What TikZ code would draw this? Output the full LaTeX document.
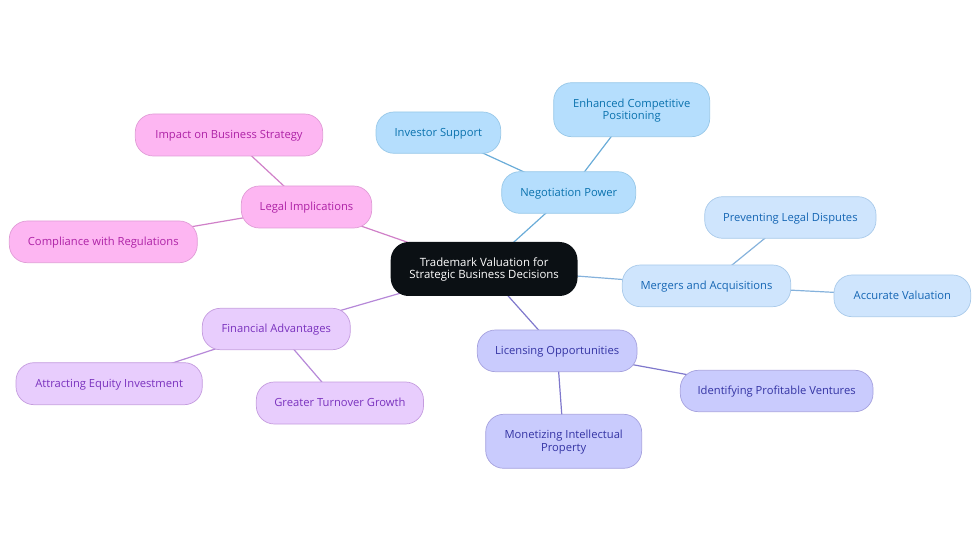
\documentclass[tikz,border=0pt]{standalone}
\usepackage{fontspec}
\setmainfont{Open Sans}
\usetikzlibrary{backgrounds}
\definecolor{cnf}{HTML}{B5DEFD}\definecolor{cns}{HTML}{98C8E8}\definecolor{cnt}{HTML}{0A72AE}\definecolor{cne}{HTML}{6AACD8}
\definecolor{cmf}{HTML}{CFE5FD}\definecolor{cms}{HTML}{A9CAEA}\definecolor{cmt}{HTML}{1566B4}\definecolor{cme}{HTML}{85B2DC}
\definecolor{clf}{HTML}{C9CBFD}\definecolor{cls}{HTML}{A6A2DE}\definecolor{clt}{HTML}{3434A4}\definecolor{cle}{HTML}{7F78CC}
\definecolor{cff}{HTML}{E8CDFD}\definecolor{cfs}{HTML}{C49CDE}\definecolor{cft}{HTML}{7A32BE}\definecolor{cfe}{HTML}{B688D8}
\definecolor{cgf}{HTML}{FDB6F2}\definecolor{cgs}{HTML}{E09CD6}\definecolor{cgt}{HTML}{AE22A6}\definecolor{cge}{HTML}{D080C8}
\definecolor{ccf}{HTML}{0B1014}
\newcommand{\oneln}[1]{\raisebox{-3.6pt}[0pt][0pt]{#1}}
\newcommand{\twoln}[3]{\raisebox{-9.8pt}[0pt][0pt]{\parbox[b]{#1pt}{\centering #2\\#3}}}
\tikzset{
  x=1pt,y=-1pt,
  box/.style n args={3}{draw=#2,fill=#1,text=#3,line width=.7pt,rounded corners=18pt,inner sep=0pt,
     font=\fontsize{11.2}{12.4}\selectfont},
  nb/.style={box={cnf}{cns}{cnt}},
  mb/.style={box={cmf}{cms}{cmt}},
  lb/.style={box={clf}{cls}{clt}},
  fb/.style={box={cff}{cfs}{cft}},
  gb/.style={box={cgf}{cgs}{cgt}},
  cb/.style={fill=ccf,text=white,rounded corners=18pt,inner sep=0pt,font=\fontsize{11.4}{12.4}\selectfont},
  edge/.style={line width=1.2pt}
}
\newcommand{\bx}[7]{\node[#1,minimum width=#4pt-#3pt,minimum height=#6pt-#5pt] (#2) at ({(#3+#4)/2},{(#5+#6)/2}) {#7};}
\begin{document}
\begin{tikzpicture}
\useasboundingbox (0,0) rectangle (980,553);
\bx{cb}{c}{390.7}{577.5}{242}{296}{\twoln{170}{Trademark Valuation for}{Strategic Business Decisions}}
\bx{nb}{neg}{501.7}{635.7}{171.7}{213.3}{\oneln{Negotiation Power}}
\bx{nb}{inv}{376}{500.7}{112}{153.3}{\oneln{Investor Support}}
\bx{nb}{enh}{553.7}{709.7}{82.7}{136.7}{\twoln{140}{Enhanced Competitive}{Positioning}}
\bx{gb}{leg}{241.3}{371.7}{186}{228}{\oneln{Legal Implications}}
\bx{gb}{imp}{135.3}{322.7}{114}{156}{\oneln{Impact on Business Strategy}}
\bx{gb}{com}{9.3}{197.3}{221}{262.7}{\oneln{Compliance with Regulations}}
\bx{fb}{fin}{202.3}{350.3}{308.3}{349.7}{\oneln{Financial Advantages}}
\bx{fb}{att}{16}{202.3}{362.7}{404.7}{\oneln{Attracting Equity Investment}}
\bx{fb}{gre}{256.3}{423.5}{382}{424}{\oneln{Greater Turnover Growth}}
\bx{mb}{mer}{622.3}{790.7}{265}{306.7}{\oneln{Mergers and Acquisitions}}
\bx{mb}{pre}{704.7}{876}{196.7}{238.3}{\oneln{Preventing Legal Disputes}}
\bx{mb}{acc}{834}{970.7}{275}{316.7}{\oneln{Accurate Valuation}}
\bx{lb}{lic}{477.3}{637}{330}{371.7}{\oneln{Licensing Opportunities}}
\bx{lb}{ide}{680.3}{873}{370.3}{411.7}{\oneln{Identifying Profitable Ventures}}
\bx{lb}{mon}{485.7}{641.7}{414.3}{468.3}{\twoln{140}{Monetizing Intellectual}{Property}}
\begin{pgfonlayer}{background}
\draw[edge,cne] (c.center) -- (neg.center);
\draw[edge,cne] (neg.center) -- (inv.center);
\draw[edge,cne] (neg.center) -- (enh.center);
\draw[edge,cge] (c.center) -- (leg.center);
\draw[edge,cge] (leg.center) -- (imp.center);
\draw[edge,cge] (leg.center) -- (com.center);
\draw[edge,cfe] (c.center) -- (fin.center);
\draw[edge,cfe] (fin.center) -- (att.center);
\draw[edge,cfe] (fin.center) -- (gre.center);
\draw[edge,cme] (c.center) -- (mer.center);
\draw[edge,cme] (mer.center) -- (pre.center);
\draw[edge,cme] (mer.center) -- (acc.center);
\draw[edge,cle] (c.center) -- (lic.center);
\draw[edge,cle] (lic.center) -- (ide.center);
\draw[edge,cle] (lic.center) -- (mon.center);
\end{pgfonlayer}
\end{tikzpicture}
\end{document}
